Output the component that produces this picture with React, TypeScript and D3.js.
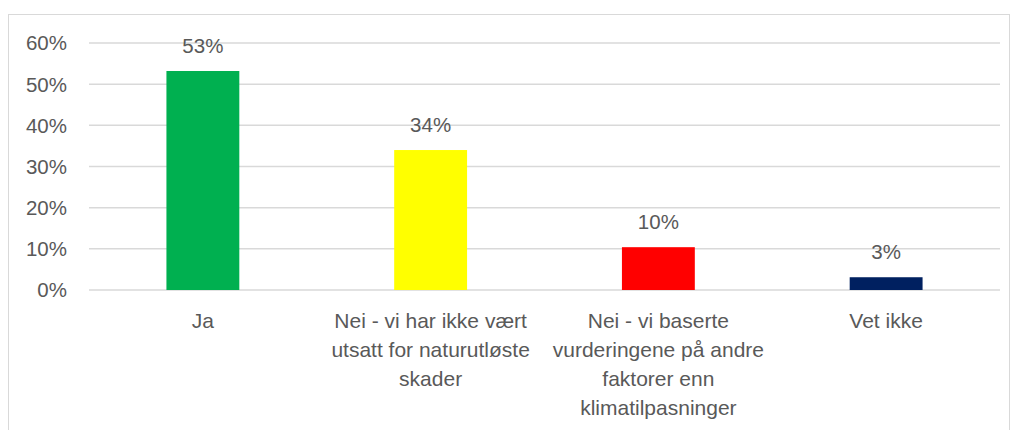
import React from "react";
import * as d3 from "d3";

const categories = [
  ["Ja"],
  ["Nei - vi har ikke vært", "utsatt for naturutløste", "skader"],
  ["Nei - vi baserte", "vurderingene på andre", "faktorer enn", "klimatilpasninger"],
  ["Vet ikke"],
];
const values = [0.532, 0.34, 0.104, 0.031];
const valueLabels = ["53%", "34%", "10%", "3%"];
const colors = ["#00B050", "#FFFF00", "#FF0000", "#002060"];
const yTicks = [0, 0.1, 0.2, 0.3, 0.4, 0.5, 0.6];

export default function App() {
  const W = 1015, H = 430;
  const left = 89, right = 1000, top = 43, bottom = 290;
  const x = d3.scaleBand<number>().domain(d3.range(categories.length)).range([left, right]).paddingInner(0).paddingOuter(0);
  const y = d3.scaleLinear().domain([0, 0.6]).range([bottom, top]);
  const bw = x.bandwidth() * 0.32;
  const font = "'Liberation Sans', Arial, sans-serif";
  const txt = "#595959";
  return (
    <svg width={W} height={H} style={{ position: "absolute", left: 0, top: 0, background: "#fff" }} fontFamily={font}>
      <rect x={8.5} y={14.5} width={1001} height={440} fill="#fff" stroke="#d9d9d9" strokeWidth={1} />
      {yTicks.map((t) => (
        <g key={t}>
          <line x1={left} x2={right} y1={y(t)} y2={y(t)} stroke="#d9d9d9" strokeWidth={1.5} />
          <text x={67} y={y(t)} dy="0.36em" textAnchor="end" fontSize={20.5} fill={txt}>
            {d3.format(".0%")(t)}
          </text>
        </g>
      ))}
      {values.map((v, i) => {
        const cx = x(i)! + x.bandwidth() / 2;
        return (
          <g key={i}>
            <rect x={cx - bw / 2} y={y(v)} width={bw} height={y(0) - y(v)} fill={colors[i]} />
            <text x={cx} y={y(v) - 18} textAnchor="middle" fontSize={20.5} fill={txt}>
              {valueLabels[i]}
            </text>
            {categories[i].map((line, j) => (
              <text key={j} x={cx} y={328 + j * 29} textAnchor="middle" fontSize={21} fill={txt}>
                {line}
              </text>
            ))}
          </g>
        );
      })}
    </svg>
  );
}
